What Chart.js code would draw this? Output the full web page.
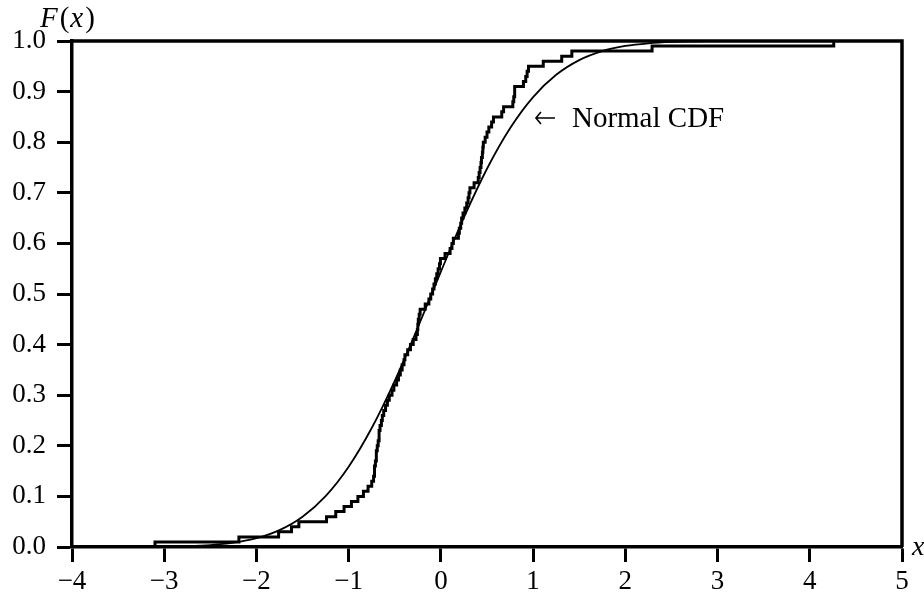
<!DOCTYPE html>
<html>
<head>
<meta charset="utf-8">
<script src="https://cdn.jsdelivr.net/npm/chart.js@4.4.1/dist/chart.umd.min.js"></script>
<style>
  html, body { margin: 0; padding: 0; background: #fff; }
  #wrap { width: 924px; height: 601px; }
</style>
</head>
<body>
<div id="wrap"><canvas id="cdfChart" width="924" height="601"></canvas></div>
<script>
// empirical CDF: x where each jump happens, and the level right after it
const stepX = [-3.10, -3.10, -2.19, -1.76, -1.62, -1.54, -1.24, -1.14, -1.05, -0.97, -0.90,
  -0.84, -0.79, -0.75, -0.73, -0.72, -0.71, -0.70, -0.69, -0.68, -0.67, -0.66, -0.645,
  -0.635, -0.62, -0.60, -0.58, -0.56, -0.53, -0.51, -0.48, -0.46, -0.44, -0.42, -0.40,
  -0.39, -0.36, -0.33, -0.30, -0.27, -0.255, -0.25, -0.245, -0.235, -0.225, -0.17, -0.13,
  -0.11, -0.09, -0.075, -0.06, -0.045, -0.03, -0.015, -0.005, 0.045, 0.10, 0.12, 0.135,
  0.19, 0.20, 0.215, 0.225, 0.24, 0.26, 0.28, 0.295, 0.305, 0.315, 0.36, 0.405, 0.415,
  0.425, 0.435, 0.44, 0.45, 0.455, 0.46, 0.48, 0.50, 0.52, 0.55, 0.57, 0.66, 0.68, 0.78,
  0.79, 0.80, 0.895, 0.92, 0.935, 0.95, 1.11, 1.31, 1.42, 2.29, 4.26];
const stepY = [0.00, 0.01, 0.02, 0.03, 0.04, 0.05, 0.06, 0.07, 0.08, 0.09, 0.10,
  0.11, 0.12, 0.13, 0.14, 0.16, 0.17, 0.19, 0.20, 0.21, 0.23, 0.24, 0.25,
  0.26, 0.27, 0.28, 0.29, 0.30, 0.31, 0.32, 0.33, 0.34, 0.35, 0.36, 0.37,
  0.38, 0.39, 0.40, 0.41, 0.42, 0.43, 0.44, 0.45, 0.46, 0.47, 0.48, 0.49,
  0.50, 0.51, 0.52, 0.53, 0.54, 0.55, 0.56, 0.57, 0.58, 0.59, 0.60, 0.61,
  0.62, 0.63, 0.64, 0.65, 0.66, 0.67, 0.68, 0.69, 0.70, 0.71, 0.72, 0.73, 0.74,
  0.75, 0.76, 0.77, 0.78, 0.79, 0.80, 0.81, 0.82, 0.83, 0.84, 0.85, 0.86, 0.87, 0.88,
  0.89, 0.91, 0.92, 0.93, 0.94, 0.95, 0.96, 0.97, 0.98, 0.99, 1.00];

// smooth normal curve
const normX = [-3.5, -3.25, -3, -2.75, -2.5, -2.25, -2, -1.75, -1.5, -1.25, -1, -0.75, -0.5,
  -0.25, 0, 0.25, 0.5, 0.75, 1, 1.25, 1.5, 1.75, 2, 2.25, 2.5, 2.75, 3];
const normY = [0.0001, 0.0002, 0.0006, 0.0016, 0.0038, 0.0085, 0.0174, 0.0334, 0.0599,
  0.1006, 0.1587, 0.2351, 0.3284, 0.4338, 0.5442, 0.6513, 0.7475, 0.8275, 0.8892, 0.9332,
  0.9623, 0.9801, 0.9902, 0.9955, 0.9981, 0.9992, 0.9997];

const xTicks = [-4, -3, -2, -1, 0, 1, 2, 3, 4, 5];
const noteArrow = '\u2190';
const noteText = 'Normal CDF';
const notePos = { x: 1.02, y: 0.83 };

const FONT = 'Liberation Serif';
Chart.defaults.font.family = FONT;
Chart.defaults.font.size = 27;
Chart.defaults.color = '#000';

// top and right frame lines, plus the text labels
const framePlugin = {
    id: 'frame',
    afterDraw(chart) {
        const { ctx, chartArea: a, scales } = chart;
        ctx.save();
        ctx.strokeStyle = '#000';
        ctx.lineWidth = 3.5;
        ctx.beginPath();
        ctx.moveTo(a.left, a.top);
        ctx.lineTo(a.right, a.top);
        ctx.lineTo(a.right, a.bottom);
        ctx.stroke();

        ctx.fillStyle = '#000';
        ctx.textBaseline = 'alphabetic';
        ctx.textAlign = 'left';
        const nx = scales.x.getPixelForValue(notePos.x);
        const ny = scales.y.getPixelForValue(notePos.y);
        // thin arrow drawn as a line with a small head
        ctx.lineWidth = 1.6;
        ctx.beginPath();
        ctx.moveTo(nx + 20, ny - 9);
        ctx.lineTo(nx + 1, ny - 9);
        ctx.moveTo(nx + 6, ny - 15);
        ctx.lineTo(nx + 1, ny - 9);
        ctx.lineTo(nx + 6, ny - 3);
        ctx.stroke();
        ctx.font = `29px "${FONT}"`;
        ctx.fillText(noteText, nx + 37, ny);

        // F(x) over the y axis
        let px = 40;
        const py = 27;
        const parts = [['F', true], ['(', false], ['x', true], [')', false]];
        parts.forEach(([t, it]) => {
            ctx.font = `${it ? 'italic ' : ''}29px "${FONT}"`;
            ctx.fillText(t, px, py);
            px += ctx.measureText(t).width + (it ? 2 : 1);
        });

        // x at the end of the x axis
        ctx.font = `italic 28px "${FONT}"`;
        ctx.fillText('x', a.right + 10, a.bottom + 8);
        ctx.restore();
    }
};

const ctx = document.getElementById('cdfChart').getContext('2d');
const cdfChart = new Chart(ctx, {
    type: 'line',
    data: {
        datasets: [
            {
                label: 'Empirical CDF',
                data: stepX.map((x, i) => ({ x: x, y: stepY[i] })),
                borderColor: '#000',
                borderWidth: 3,
                stepped: 'before',
                pointRadius: 0,
                fill: false
            },
            {
                label: 'Normal CDF',
                data: normX.map((x, i) => ({ x: x, y: normY[i] })),
                borderColor: '#000',
                borderWidth: 1.8,
                cubicInterpolationMode: 'monotone',
                pointRadius: 0,
                fill: false
            }
        ]
    },
    options: {
        responsive: false,
        animation: false,
        layout: { padding: { top: 41, right: 22, left: 0, bottom: 0 } },
        plugins: { legend: { display: false }, tooltip: { enabled: false } },
        scales: {
            x: {
                type: 'linear',
                min: -4,
                max: 5,
                afterFit: s => { s.height = 54; },
                afterBuildTicks: s => { s.ticks = xTicks.map(v => ({ value: v })); },
                border: { display: true, color: '#000', width: 3.5 },
                grid: { drawOnChartArea: false, tickLength: 15, tickWidth: 3, color: '#000' },
                ticks: {
                    padding: 4,
                    maxRotation: 0,
                    callback: v => String(v).replace('-', '\u2212')
                }
            },
            y: {
                min: 0,
                max: 1,
                afterFit: s => { s.width = 72; },
                border: { display: true, color: '#000', width: 3.5 },
                grid: { drawOnChartArea: false, tickLength: 15, tickWidth: 3, color: '#000' },
                ticks: {
                    stepSize: 0.1,
                    padding: 11,
                    callback: v => v.toFixed(1)
                }
            }
        }
    },
    plugins: [framePlugin]
});
</script>
</body>
</html>
